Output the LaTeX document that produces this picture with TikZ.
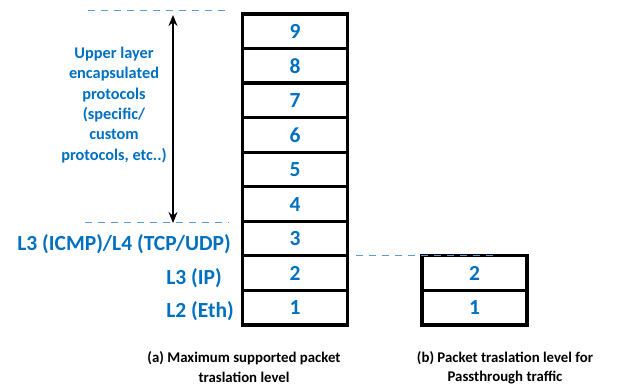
\documentclass[tikz,border=0pt]{standalone}
\usepackage{fontspec}
\setmainfont{Carlito}
\usetikzlibrary{arrows.meta}
\definecolor{labelblue}{RGB}{0,112,192}
\definecolor{guideblue}{RGB}{91,155,213}
\tikzset{
  layerbox/.style={draw=black, line width=3.2pt, minimum width=105pt, minimum height=34.6pt,
    inner sep=0pt, font=\bfseries\fontsize{21.5}{24}\selectfont, text=labelblue},
  layername/.style={font=\bfseries\fontsize{21.5}{24}\selectfont, text=labelblue, inner sep=0pt},
  guide/.style={draw=guideblue, line width=1pt, dash pattern=on 7pt off 6pt},
  caption/.style={font=\bfseries\fontsize{14.8}{19.5}\selectfont, align=center, inner sep=0pt},
}
\begin{document}
\begin{tikzpicture}[x=1pt,y=-1pt]
\useasboundingbox (0,0) rectangle (624,387);
% left stack, layers 1..9
\foreach \k in {1,...,9} {
  \node[layerbox] (a\k) at (295, {325-(\k-0.5)*34.56}) {\k};
}
% right stack, layers 1..2
\foreach \k in {1,2} {
  \node[layerbox] (b\k) at (474.5, {325-(\k-0.5)*34.56}) {\k};
}
% layer names
\node[layername, anchor=base east] (n3) at (231,251) {L3 (ICMP)/L4 (TCP/UDP)};
\node[layername, anchor=base east] (n2) at (222,285) {L3 (IP)};
\node[layername, anchor=base east] (n1) at (234,318) {L2 (Eth)};
% upper-layer description
\node[font=\bfseries\fontsize{16.3}{20.3}\selectfont, text=labelblue, align=center, inner sep=0pt]
  (upper) at (114,105) {Upper layer\\encapsulated\\protocols\\(specific/\\custom\\protocols, etc..)};
% guide lines
\coordinate (g1s) at (88,11);
\coordinate (g1e) at (230,11);
\coordinate (g2s) at (85,223);
\coordinate (g2e) at (229,223);
\coordinate (g3s) at (356,255.5);
\coordinate (g3e) at (498,255.5);
\draw[guide] (g1s) -- (g1e);
\draw[guide] (g2s) -- (g2e);
\draw[guide] (g3s) -- (g3e);
% span arrow
\coordinate (ar1) at (173,15);
\coordinate (ar2) at (173,223);
\draw[line width=1.6pt, {Stealth[length=11pt,width=9pt]}-{Stealth[length=11pt,width=9pt]}] (ar1) -- (ar2);
% captions
\node[caption] (ca) at (244,367) {(a) Maximum supported packet\\traslation level};
\node[caption] (cb) at (505,368) {(b) Packet traslation level for\\Passthrough traffic};
\end{tikzpicture}
\end{document}
